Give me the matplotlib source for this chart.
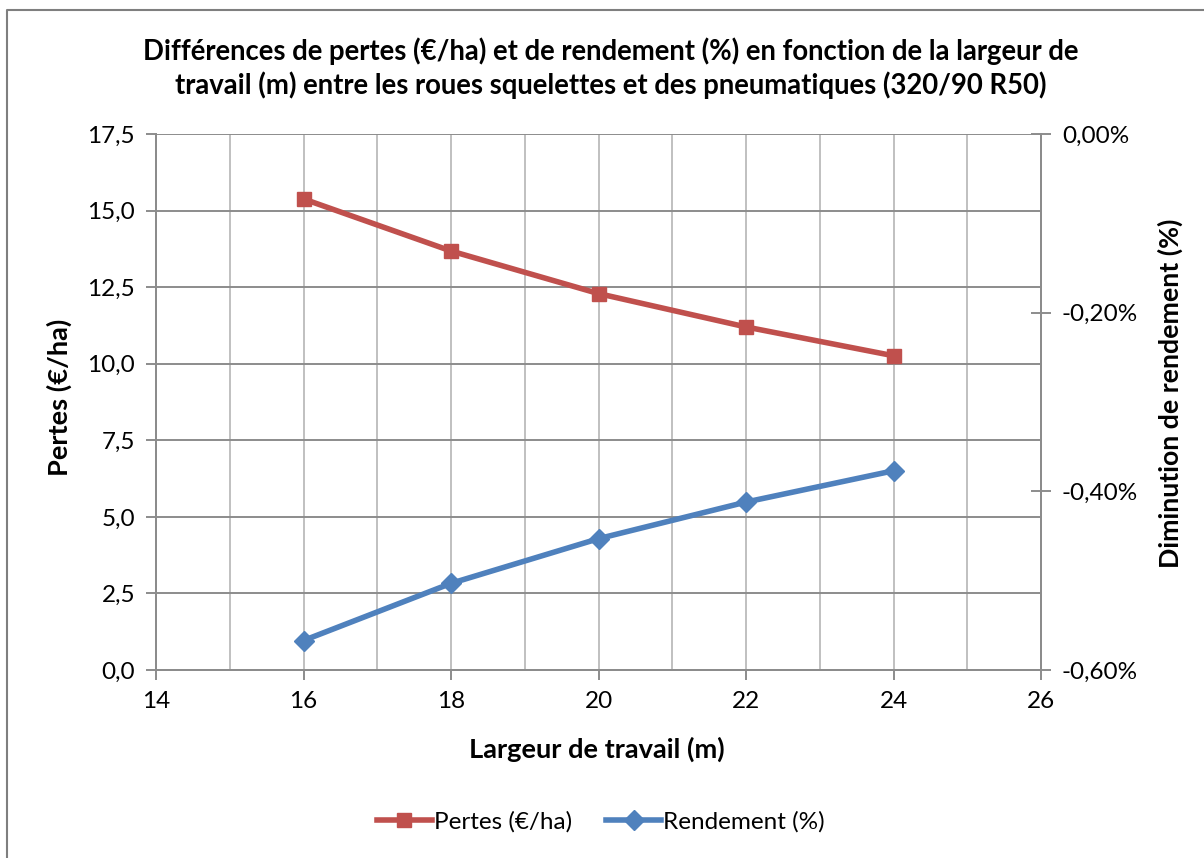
import matplotlib.pyplot as plt
from matplotlib.lines import Line2D
from matplotlib.ticker import MultipleLocator, FuncFormatter

plt.rcParams["font.family"] = ["Lato", "DejaVu Sans"]

# --------------------------------------------------
# Data
# --------------------------------------------------
largeur = [16, 18, 20, 22, 24]
pertes = [15.38, 13.68, 12.29, 11.2, 10.26]
rendement = [-0.567, -0.503, -0.453, -0.412, -0.377]

title = ("Différences de pertes (€/ha) et de rendement (%) en fonction de la largeur de\n"
         "travail (m) entre les roues squelettes et des pneumatiques (320/90 R50)")

red = "#C0504D"
blue = "#4F81BD"
axis_gray = "#8c8c8c"

# --------------------------------------------------
# Figure
# --------------------------------------------------
fig = plt.figure(figsize=(12.04, 8.58), dpi=100)
ax = fig.add_axes([156 / 1204, 1 - 670 / 858, 885 / 1204, 536 / 858])
ax2 = ax.twinx()

ax.set_xlim(14, 26)
ax.set_ylim(0, 17.5)
ax2.set_ylim(-0.6, 0)

ax.xaxis.set_major_locator(MultipleLocator(2))
ax.xaxis.set_minor_locator(MultipleLocator(1))
ax.yaxis.set_major_locator(MultipleLocator(2.5))
ax2.yaxis.set_major_locator(MultipleLocator(0.2))

ax.yaxis.set_major_formatter(FuncFormatter(lambda v, p: f"{v:.1f}".replace(".", ",")))


def pct(v, p):
    if abs(v) < 1e-9:
        return "0,00%"
    return f"{v:.2f}%".replace(".", ",")


ax2.yaxis.set_major_formatter(FuncFormatter(pct))

# gridlines
ax.grid(True, which="both", axis="x", color="#c0c0c0", lw=1.4)
ax.grid(True, which="major", axis="y", color=axis_gray, lw=1.4)
ax.set_axisbelow(True)

for a in (ax, ax2):
    for s in a.spines.values():
        s.set_color(axis_gray)
        s.set_linewidth(1.4)
ax.spines["top"].set_visible(False)
ax2.spines["top"].set_visible(False)

ax.tick_params(axis="both", which="major", labelsize=17.5, color=axis_gray,
               width=1.4, length=7, direction="out", pad=8)
ax.tick_params(axis="x", which="minor", length=0)
ax2.tick_params(axis="y", labelsize=17.5, color=axis_gray, width=1.4,
                length=14, direction="inout", pad=8)

# series
ax.plot(largeur, pertes, color=red, lw=4, marker="s", markersize=10.5,
        label="Pertes (€/ha)", zorder=3, clip_on=False)
ax2.plot(largeur, rendement, color=blue, lw=4, marker="D", markersize=10.5,
         label="Rendement (%)", zorder=3, clip_on=False)

ax.set_xlabel("Largeur de travail (m)", fontsize=19.6, fontweight="bold", va="center")
ax.set_ylabel("Pertes (€/ha)", fontsize=19.6, fontweight="bold", va="center")
ax2.set_ylabel("Diminution de rendement (%)", fontsize=19.3, fontweight="bold",
               va="center")
ax.xaxis.set_label_coords((597 - 156) / 885, (670 - 749) / 536)
ax.yaxis.set_label_coords((59 - 156) / 885, (670 - 397) / 536)
ax2.yaxis.set_label_coords((1170 - 156) / 885, (670 - 393) / 536)

fig.text(611 / 1204, 1 - 68 / 858, title, ha="center", va="center",
         fontsize=19.8, fontweight="bold", linespacing=1.3)

handles = [
    Line2D([], [], color=red, lw=4, marker="s", markersize=10.5),
    Line2D([], [], color=blue, lw=4, marker="D", markersize=10.5),
]
fig.legend(handles, ["Pertes (€/ha)", "Rendement (%)"], loc="center",
           bbox_to_anchor=(601 / 1204, 1 - 822 / 858), ncol=2, frameon=False,
           fontsize=17.5, handlelength=2.25, handletextpad=0.1, columnspacing=1.4)

# chart border (left and top visible in the reference)
fig.add_artist(Line2D([7 / 1204, 7 / 1204, 1], [0, 1 - 10 / 858, 1 - 10 / 858],
                      color="#7f7f7f", lw=1.5, transform=fig.transFigure))

fig.savefig("out.png", dpi=100)
